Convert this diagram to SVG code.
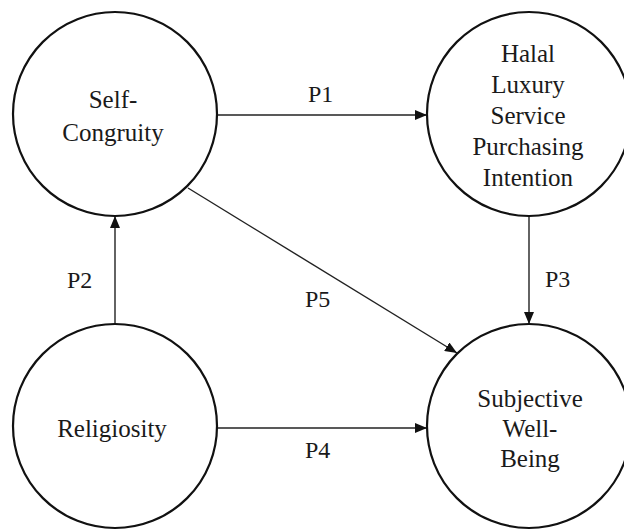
<svg xmlns="http://www.w3.org/2000/svg" width="624" height="530" viewBox="0 0 624 530">
<style>
.node{fill:#fff;stroke:#111;stroke-width:2.2}
.t{font-family:"Liberation Serif","Times New Roman",serif;font-size:25px;fill:#1a1a1a;text-anchor:middle}
.lbl{font-family:"Liberation Serif","Times New Roman",serif;font-size:24px;fill:#1a1a1a}
.edge{stroke:#222;stroke-width:1.4;fill:none;marker-end:url(#ah)}
</style>
<defs>
<marker id="ah" viewBox="0 0 12 10" refX="12" refY="5" markerWidth="12" markerHeight="10" markerUnits="userSpaceOnUse" orient="auto">
<path d="M0,0 L12,5 L0,10 Z" fill="#111"/>
</marker>
</defs>
<rect width="624" height="530" fill="#fff"/>
<g id="connectors">
<line class="edge" x1="218" y1="115" x2="427" y2="115"/>
<line class="edge" x1="115" y1="324" x2="115" y2="216"/>
<line class="edge" x1="529" y1="216" x2="529" y2="324"/>
<line class="edge" x1="218" y1="428" x2="427" y2="428"/>
<line class="edge" x1="188" y1="188" x2="457" y2="353"/>
<text class="lbl" x="308" y="102">P1</text>
<text class="lbl" x="67" y="288">P2</text>
<text class="lbl" x="545" y="287">P3</text>
<text class="lbl" x="305" y="458">P4</text>
<text class="lbl" x="305" y="307">P5</text>
</g>
<g id="self-congruity">
<circle class="node" cx="115" cy="114" r="102"/>
<text class="t" x="113" y="108">Self-</text>
<text class="t" x="113" y="141">Congruity</text>
</g>
<g id="halal-intention">
<circle class="node" cx="529" cy="114" r="102"/>
<text class="t" x="528" y="62">Halal</text>
<text class="t" x="528" y="93">Luxury</text>
<text class="t" x="528" y="124">Service</text>
<text class="t" x="528" y="155">Purchasing</text>
<text class="t" x="528" y="186">Intention</text>
</g>
<g id="religiosity">
<circle class="node" cx="115" cy="426" r="102"/>
<text class="t" x="112" y="437">Religiosity</text>
</g>
<g id="subjective-well-being">
<circle class="node" cx="529" cy="426" r="102"/>
<text class="t" x="530" y="407">Subjective</text>
<text class="t" x="530" y="437">Well-</text>
<text class="t" x="530" y="467">Being</text>
</g>
</svg>
